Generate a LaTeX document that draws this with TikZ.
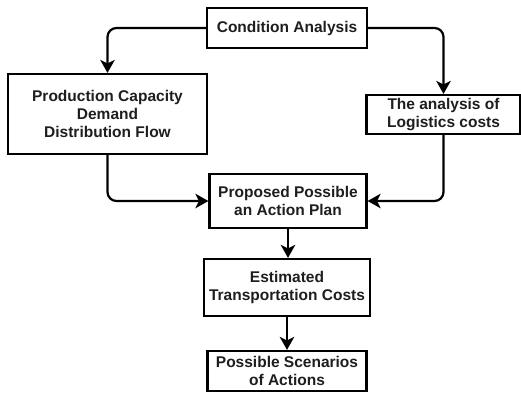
\documentclass[tikz,border=0pt]{standalone}
\usepackage{fontspec}
\setmainfont{Liberation Sans}
\usetikzlibrary{arrows.meta}
\definecolor{txt}{HTML}{1E1E1E}
\tikzset{
  box/.style={draw=black, line width=2.2pt, fill=white, rectangle, align=center,
    inner sep=0pt, text=txt, font=\fontsize{15.5}{18}\selectfont\bfseries},
  conn/.style={draw=black, line width=2.2pt, rounded corners=9pt,
    -{Stealth[length=13pt,width=14.5pt,inset=3.5pt]}}
}
\begin{document}
\begin{tikzpicture}[x=1pt,y=-1pt]
\useasboundingbox (0,0) rectangle (521,392);
\node[box, minimum width=160pt, minimum height=40pt] (cond) at (287,28) {Condition Analysis};
\node[box, minimum width=199pt, minimum height=80pt] (left) at (107.5,114) {Production Capacity\\Demand\\Distribution Flow};
\node[box, minimum width=154pt, minimum height=39pt] (right) at (443.5,114.5) {The analysis of\\Logistics costs};
\node[box, minimum width=157pt, minimum height=54pt] (prop) at (288,201) {Proposed Possible\\an Action Plan};
\node[box, minimum width=166pt, minimum height=57pt] (est) at (287,287.5) {Estimated\\Transportation Costs};
\node[box, minimum width=159pt, minimum height=40pt] (poss) at (287,371) {Possible Scenarios\\of Actions};
\draw[conn] (cond.west) -| (left.north);
\draw[conn] (cond.east) -| (right.north);
\draw[conn] (left.south) |- (prop.west);
\draw[conn] (right.south) |- (prop.east);
\draw[conn] (prop.south) -- (prop.south |- est.north);
\draw[conn] (est.south) -- (est.south |- poss.north);
\end{tikzpicture}
\end{document}
